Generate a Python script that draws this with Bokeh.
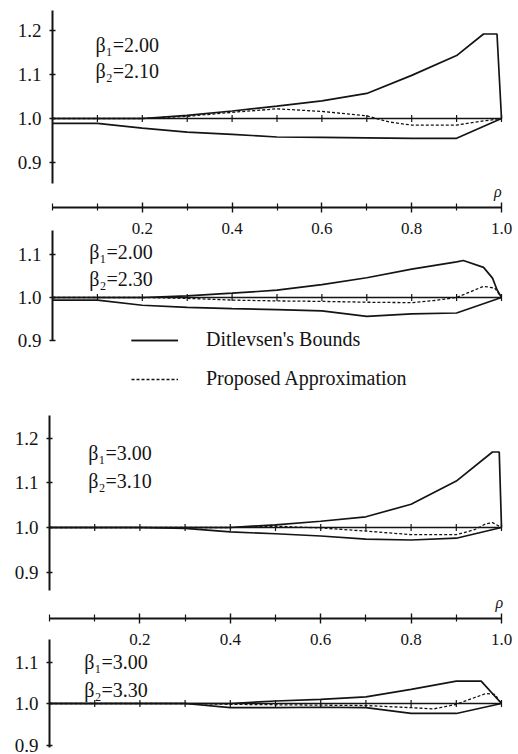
import math
from bokeh.plotting import figure
from bokeh.models import (Range1d, LinearAxis, FixedTicker, PrintfTickFormatter,
                          Legend, LegendItem)
from bokeh.core.properties import value
from bokeh.embed import file_html
from bokeh.resources import INLINE

# ---------------- data ----------------
BETA1 = ["2.00", "2.00", "3.00", "3.00"]
BETA2 = ["2.10", "2.30", "3.10", "3.30"]

# panel 1 : beta1=2.00, beta2=2.10
p1_up_rho = [0, 0.1, 0.2, 0.3, 0.4, 0.5, 0.6, 0.7, 0.8, 0.9, 0.96, 0.99, 1.0]
p1_up = [1.0, 1.0, 1.0, 1.007, 1.017, 1.028, 1.040, 1.057, 1.098, 1.143, 1.192, 1.192, 1.0]
p1_lo_rho = [0, 0.1, 0.2, 0.3, 0.4, 0.5, 0.6, 0.7, 0.8, 0.9, 1.0]
p1_lo = [0.989, 0.989, 0.978, 0.969, 0.964, 0.958, 0.957, 0.956, 0.955, 0.955, 1.0]
p1_ap_rho = [0, 0.1, 0.2, 0.3, 0.4, 0.5, 0.6, 0.7, 0.75, 0.8, 0.9, 0.95, 1.0]
p1_ap = [1.0, 1.0, 1.0, 1.005, 1.014, 1.022, 1.016, 1.006, 0.992, 0.985, 0.985, 0.993, 1.0]

# panel 2 : beta1=2.00, beta2=2.30
p2_up_rho = [0, 0.1, 0.2, 0.3, 0.4, 0.5, 0.6, 0.7, 0.8, 0.9, 0.915, 0.96, 0.98, 0.99, 1.0]
p2_up = [1.0, 1.0, 1.0, 1.004, 1.010, 1.017, 1.030, 1.046, 1.066, 1.083, 1.086, 1.070, 1.045, 1.018, 1.0]
p2_lo_rho = [0, 0.1, 0.2, 0.3, 0.4, 0.5, 0.6, 0.7, 0.8, 0.9, 1.0]
p2_lo = [0.994, 0.994, 0.982, 0.977, 0.974, 0.972, 0.969, 0.956, 0.962, 0.964, 1.0]
p2_ap_rho = [0, 0.1, 0.2, 0.3, 0.4, 0.5, 0.6, 0.7, 0.8, 0.85, 0.9, 0.96, 0.985, 1.0]
p2_ap = [1.0, 1.0, 1.0, 0.998, 0.994, 0.992, 0.991, 0.989, 0.988, 0.993, 1.0, 1.026, 1.022, 1.0]

# panel 3 : beta1=3.00, beta2=3.10
p3_up_rho = [0, 0.1, 0.2, 0.3, 0.4, 0.5, 0.6, 0.7, 0.8, 0.9, 0.98, 0.995, 1.0]
p3_up = [1.0, 1.0, 1.0, 1.0, 1.0, 1.006, 1.014, 1.024, 1.052, 1.104, 1.169, 1.169, 1.0]
p3_lo_rho = [0, 0.1, 0.2, 0.3, 0.4, 0.5, 0.6, 0.7, 0.8, 0.9, 1.0]
p3_lo = [1.0, 1.0, 1.0, 0.998, 0.990, 0.986, 0.981, 0.974, 0.972, 0.976, 1.0]
p3_ap_rho = [0, 0.1, 0.2, 0.3, 0.4, 0.5, 0.6, 0.7, 0.8, 0.9, 0.94, 0.965, 0.98, 1.0]
p3_ap = [1.0, 1.0, 1.0, 1.0, 1.0, 1.003, 0.999, 0.992, 0.984, 0.984, 0.995, 1.008, 1.011, 1.0]

# panel 4 : beta1=3.00, beta2=3.30
p4_up_rho = [0, 0.1, 0.2, 0.3, 0.4, 0.5, 0.6, 0.7, 0.8, 0.9, 0.955, 1.0]
p4_up = [1.0, 1.0, 1.0, 1.0, 1.0, 1.006, 1.010, 1.016, 1.034, 1.054, 1.054, 1.0]
p4_lo_rho = [0, 0.1, 0.2, 0.3, 0.4, 0.5, 0.6, 0.7, 0.8, 0.9, 1.0]
p4_lo = [1.0, 1.0, 1.0, 1.0, 0.990, 0.990, 0.991, 0.990, 0.976, 0.976, 1.0]
p4_ap_rho = [0, 0.1, 0.2, 0.3, 0.4, 0.5, 0.6, 0.7, 0.8, 0.85, 0.9, 0.965, 0.985, 1.0]
p4_ap = [1.0, 1.0, 1.0, 1.0, 0.998, 0.997, 0.996, 0.995, 0.990, 0.987, 0.998, 1.024, 1.022, 1.0]

RHO_LABELED = [0.2, 0.4, 0.6, 0.8, 1.0]
RHO_MINOR = [0.0, 0.1, 0.3, 0.5, 0.7, 0.9]
RHO_BASE_TICKS = [0.1, 0.2, 0.3, 0.4, 0.5, 0.6, 0.7, 0.8, 0.9, 1.0]
RATIO_TICKS_TALL = [0.9, 1.0, 1.1, 1.2]
RATIO_TICKS_SHORT = [0.9, 1.0, 1.1]
BASE_RATIO = 1.0

# ---------------- layout ----------------
W, H = 518, 754
INK = "#141414"
SERIF = "Liberation Serif"


def x_range(px0, px1):
    span = px1 - px0
    return Range1d(-px0 / span, (W - px0) / span)


def y_range(c1, k):
    return Range1d(1.0 - (H - c1) / k, 1.0 + c1 / k)


p = figure(width=W, height=H, x_range=x_range(52, 501), y_range=Range1d(0, 1),
           x_axis_type=None, y_axis_type=None, min_border=0,
           toolbar_location=None, output_backend="svg",
           outline_line_color=None, background_fill_color="white",
           border_fill_color="white")
p.extra_x_ranges = {"g2": x_range(49, 501)}
p.extra_y_ranges = {
    "p1": y_range(118, 440.0),
    "p2": y_range(297, 430.0),
    "p3": y_range(527, 446.7),
    "p4": y_range(703, 415.0),
}

panels = [
    dict(y="p1", x="default", up=(p1_up_rho, p1_up), lo=(p1_lo_rho, p1_lo), ap=(p1_ap_rho, p1_ap),
         ticks=RATIO_TICKS_TALL, bounds=(0.852, 1.245), xaxis=0.7977,
         beta_xy=(0.096, 1.168, 1.109), rho_xy=(0.992, 0.835)),
    dict(y="p2", x="default", up=(p2_up_rho, p2_up), lo=(p2_lo_rho, p2_lo), ap=(p2_ap_rho, p2_ap),
         ticks=RATIO_TICKS_SHORT, bounds=(0.8995, 1.155), xaxis=None,
         beta_xy=(0.082, 1.105, 1.042), rho_xy=None),
    dict(y="p3", x="g2", up=(p3_up_rho, p3_up), lo=(p3_lo_rho, p3_lo), ap=(p3_ap_rho, p3_ap),
         ticks=RATIO_TICKS_TALL, bounds=(0.859, 1.25), xaxis=0.796,
         beta_xy=(0.086, 1.166, 1.105), rho_xy=(0.995, 0.831)),
    dict(y="p4", x="g2", up=(p4_up_rho, p4_up), lo=(p4_lo_rho, p4_lo), ap=(p4_ap_rho, p4_ap),
         ticks=RATIO_TICKS_SHORT, bounds=(0.895, 1.155), xaxis=None,
         beta_xy=(0.077, 1.100, 1.032), rho_xy=None),
]

legend_bounds, legend_approx = [], []
for i, pn in enumerate(panels):
    kw = dict(x_range_name=pn["x"], y_range_name=pn["y"])
    # reference line at ratio 1.0 with tick marks
    p.line([min(RHO_MINOR), max(RHO_LABELED)], [BASE_RATIO, BASE_RATIO],
           line_color=INK, line_width=1.7, **kw)
    p.scatter(RHO_BASE_TICKS, [BASE_RATIO] * len(RHO_BASE_TICKS), marker="dash",
              angle=math.pi / 2, size=7, line_color=INK, line_width=1.2, **kw)
    ru = p.line(*pn["up"], line_color=INK, line_width=1.7, **kw)
    rl = p.line(*pn["lo"], line_color=INK, line_width=1.7, **kw)
    ra = p.line(*pn["ap"], line_color=INK, line_width=1.3, line_dash="3 2", **kw)
    if i == 0:
        legend_bounds += [ru, rl]
        legend_approx += [ra]

    # y axis
    ya = LinearAxis(x_range_name=pn["x"], y_range_name=pn["y"], fixed_location=0,
                    ticker=FixedTicker(ticks=pn["ticks"], minor_ticks=[]),
                    formatter=PrintfTickFormatter(format="%.1f"),
                    bounds=pn["bounds"])
    ya.axis_line_color = INK
    ya.axis_line_width = 2
    ya.major_tick_line_color = INK
    ya.major_tick_line_width = 1.5
    ya.major_tick_in = 3
    ya.major_tick_out = 3
    ya.minor_tick_line_color = None
    ya.major_label_standoff = 8
    ya.major_label_text_font = SERIF
    ya.major_label_text_font_size = "19px"
    ya.major_label_text_color = INK
    p.add_layout(ya, "left")

    # x axis (rho) under the first panel of each group
    if pn["xaxis"] is not None:
        xa = LinearAxis(x_range_name=pn["x"], y_range_name=pn["y"], fixed_location=pn["xaxis"],
                        ticker=FixedTicker(ticks=RHO_LABELED, minor_ticks=RHO_MINOR),
                        formatter=PrintfTickFormatter(format="%.1f"),
                        bounds=(0.0, 1.0))
        xa.axis_line_color = INK
        xa.axis_line_width = 1.8
        xa.major_tick_line_color = INK
        xa.major_tick_line_width = 1.4
        xa.major_tick_in = 5
        xa.major_tick_out = 5
        xa.minor_tick_line_color = INK
        xa.minor_tick_line_width = 1.2
        xa.minor_tick_in = 4
        xa.minor_tick_out = 3
        xa.major_label_standoff = 10
        xa.major_label_text_font = SERIF
        xa.major_label_text_font_size = "17px"
        xa.major_label_text_color = INK
        p.add_layout(xa, "below")
        rx, ry = pn["rho_xy"]
        p.text([rx], [ry], text=["ρ"], text_font=value(SERIF), text_font_style="italic",
               text_font_size=value("16px"), text_color=INK, text_align="center",
               text_baseline="middle", **kw)

    bx, by1, by2 = pn["beta_xy"]
    p.text([bx, bx], [by1, by2],
           text=["β₁=" + BETA1[i], "β₂=" + BETA2[i]],
           text_font=value(SERIF), text_font_size=value("20px"), text_color=INK,
           text_align="left", text_baseline="middle", **kw)

legend = Legend(items=[LegendItem(label="Ditlevsen's Bounds", renderers=legend_bounds),
                       LegendItem(label="Proposed Approximation", renderers=legend_approx)],
                location=(131, 364), orientation="vertical",
                glyph_width=47, glyph_height=20, label_height=20, spacing=16,
                label_standoff=28, padding=0, margin=0,
                border_line_color=None, background_fill_alpha=0,
                label_text_font=SERIF, label_text_font_size="20px", label_text_color=INK)
p.add_layout(legend)

open("out.html", "w").write(file_html(p, INLINE))
